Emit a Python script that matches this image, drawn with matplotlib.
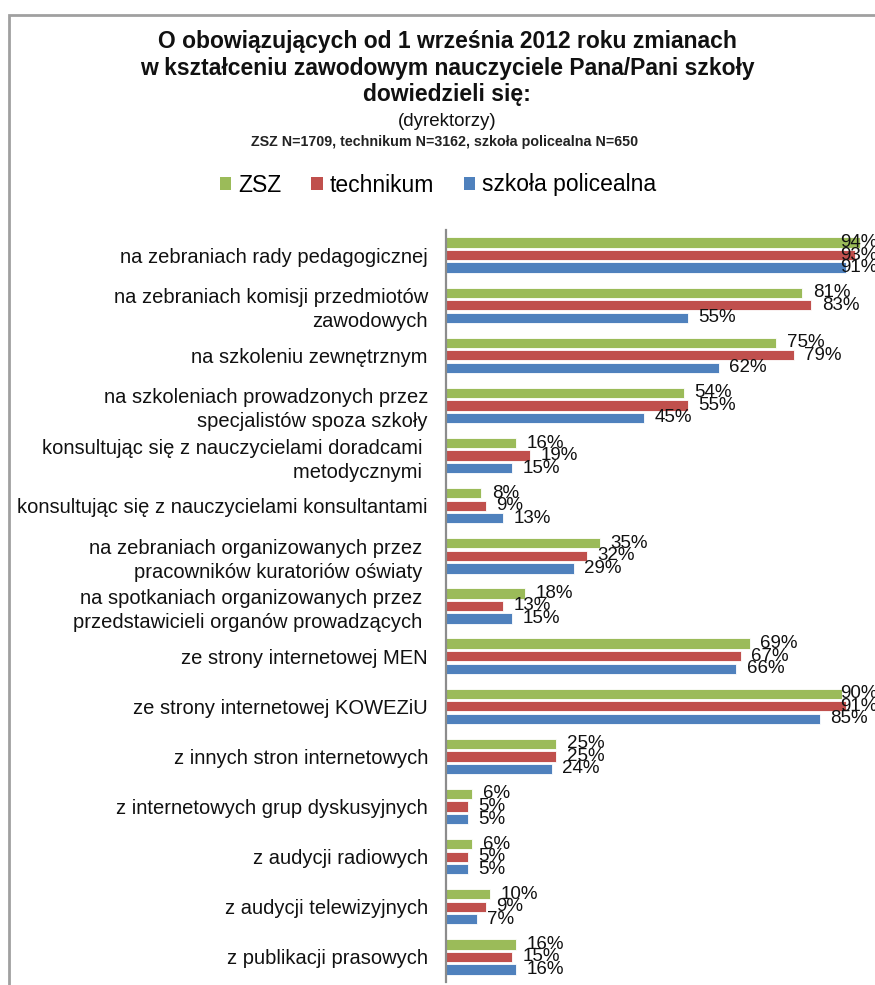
import matplotlib
matplotlib.use("Agg")
import matplotlib.pyplot as plt
from matplotlib.patches import Patch, Rectangle
import numpy as np

plt.rcParams['font.family'] = ['Liberation Sans', 'DejaVu Sans']

# Dane
kategorie = [
    "na zebraniach rady pedagogicznej",
    "na zebraniach komisji przedmiotów\nzawodowych",
    "na szkoleniu zewnętrznym",
    "na szkoleniach prowadzonych przez\nspecjalistów spoza szkoły",
    "konsultując się z nauczycielami doradcami \nmetodycznymi ",
    "konsultując się z nauczycielami konsultantami",
    "na zebraniach organizowanych przez \npracowników kuratoriów oświaty ",
    "na spotkaniach organizowanych przez \nprzedstawicieli organów prowadzących ",
    "ze strony internetowej MEN",
    "ze strony internetowej KOWEZiU",
    "z innych stron internetowych",
    "z internetowych grup dyskusyjnych",
    "z audycji radiowych",
    "z audycji telewizyjnych",
    "z publikacji prasowych",
]
zsz = [94, 81, 75, 54, 16, 8, 35, 18, 69, 90, 25, 6, 6, 10, 16]
technikum = [93, 83, 79, 55, 19, 9, 32, 13, 67, 91, 25, 5, 5, 9, 15]
policealna = [91, 55, 62, 45, 15, 13, 29, 15, 66, 85, 24, 5, 5, 7, 16]

serie = ["ZSZ", "technikum", "szkoła policealna"]
kolory = ["#9BBB59", "#C0504D", "#4F81BD"]

W, H = 875, 985
fig = plt.figure(figsize=(W / 100, H / 100), dpi=100)

# ramka wykresu
fig.patches.append(Rectangle((8.5 / W, -0.05), 1.1, (H - 15) / H + 0.05,
                             transform=fig.transFigure, fill=False,
                             edgecolor="#a0a0a0", lw=2))

ax = fig.add_axes([446 / W, 1 - 982 / H, 440 / W, (982 - 230) / H])

y = np.arange(len(kategorie))
h = 0.25
max_x = 89.5  # etykiety nie wychodzą poza obszar wykresu (jak w Excelu)
for k, (vals, kol) in enumerate(zip([zsz, technikum, policealna], kolory)):
    pos = y + (k - 1) * h
    ax.barh(pos, vals, height=h * 0.82, color=kol, edgecolor="white", lw=0.6)
    for p, v in zip(pos, vals):
        ax.text(min(v + 2.4, max_x), p, f"{v}%", va="center", ha="left",
                fontsize=13.5, color="#111111", clip_on=False)

ax.set_xlim(0, 100)
ax.set_ylim(len(kategorie) - 0.5, -0.5)
ax.set_yticks(y)
ax.set_yticklabels(kategorie, fontsize=14.5, color="#111111", linespacing=1.33)
ax.tick_params(axis="y", length=0, pad=13)
ax.set_xticks([])
for s in ["top", "right", "bottom"]:
    ax.spines[s].set_visible(False)
ax.spines["left"].set_color("#8c8c8c")
ax.spines["left"].set_linewidth(1.6)

# tytuł
fig.text(447 / W, 1 - 68 / H,
         "O obowiązujących od 1 września 2012 roku zmianach\n"
         "w kształceniu zawodowym nauczyciele Pana/Pani szkoły\n"
         "dowiedzieli się:",
         ha="center", va="center", fontsize=16.5, fontweight="bold",
         linespacing=1.18, color="#111111")
fig.text(447 / W, 1 - 121 / H, "(dyrektorzy)", ha="center", va="center",
         fontsize=13.5, color="#111111")
fig.text(445 / W, 1 - 142 / H,
         "ZSZ N=1709, technikum N=3162, szkoła policealna N=650",
         ha="center", va="center", fontsize=10.3, fontweight="bold",
         color="#222222")

# legenda
uchwyty = [Patch(facecolor=c, edgecolor="none") for c in kolory]
fig.legend(uchwyty, serie, loc="center", bbox_to_anchor=(438 / W, 1 - 185 / H),
           ncol=3, frameon=False, fontsize=16.5, handlelength=0.5,
           handleheight=0.5, handletextpad=0.3, columnspacing=1.3)

fig.savefig("out.png", dpi=100, facecolor="white")
